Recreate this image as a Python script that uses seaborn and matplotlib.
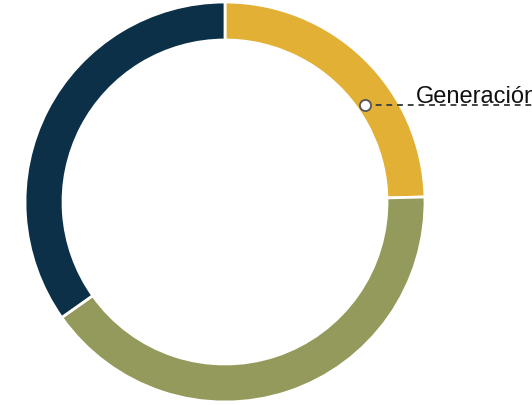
import numpy as np
import matplotlib
matplotlib.use("Agg")
import matplotlib.pyplot as plt
import seaborn as sns

# segment shares (percent)
categories = ["Generación", "Otros", "Resto"]
shares = [24.6, 40.6, 34.8]
colors = ["#E3B036", "#949A5B", "#0B3047"]
label_text = "Generación"

sns.set_theme(style="white")
plt.rcParams['font.family'] = ['Liberation Sans', 'DejaVu Sans']

fig = plt.figure(figsize=(5.32, 4.06), dpi=100)
ax = fig.add_axes([0, 0, 1, 1])

# axes in pixel-like units, centre of the ring at the origin
cx, cy = 225, 203
R, width = 200, 38

wedges, _ = ax.pie(shares, colors=colors, startangle=90, counterclock=False,
                   radius=R, wedgeprops=dict(width=width, edgecolor="white", linewidth=2))
ax.set_xlim(-cx, 532 - cx)
ax.set_ylim(-(406 - cy), cy)
ax.set_aspect("equal")
ax.axis("off")

# callout anchored inside the first wedge
w = wedges[0]
ang = np.deg2rad(w.theta2 - 0.625 * (w.theta2 - w.theta1))
r = R - width + 0.22 * width
px, py = r * np.cos(ang), r * np.sin(ang)
ax.plot([px, 532 - cx], [py, py], ls=(0, (3, 2.5)), color="#444444", lw=1.4,
        clip_on=False, zorder=3)
ax.plot(px, py, "o", ms=8, mfc="white", mec="#555555", mew=1.3, zorder=4)
ax.text(191, py + 3, label_text, fontsize=17, color="#111111",
        ha="left", va="baseline", clip_on=False)

fig.savefig("out.png", dpi=100)
